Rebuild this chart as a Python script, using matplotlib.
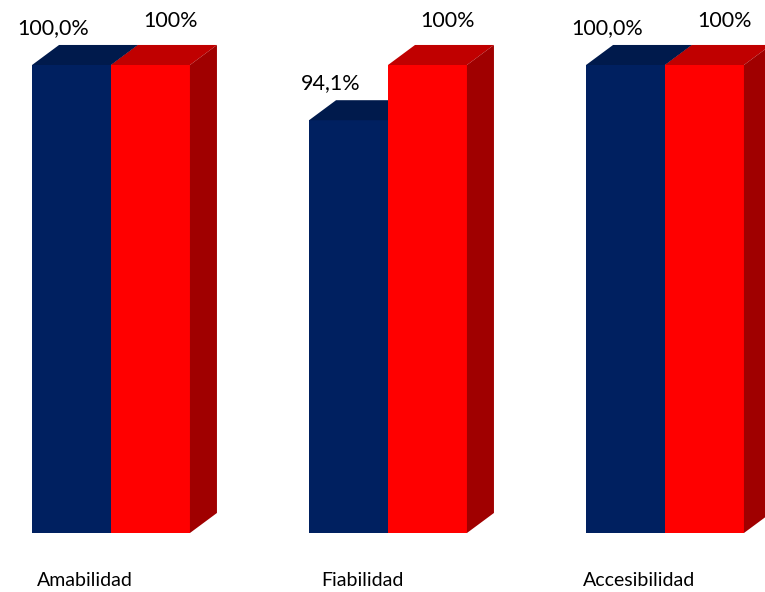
import matplotlib
matplotlib.use("Agg")
import matplotlib.pyplot as plt
from matplotlib.patches import Polygon

plt.rcParams['font.family'] = ['Lato', 'DejaVu Sans']

# data
categorias = ["Amabilidad", "Fiabilidad", "Accesibilidad"]
serie_azul = [100.0, 94.1, 100.0]
serie_roja = [100, 100, 100]
etiq_azul = ["100,0%", "94,1%", "100,0%"]
etiq_roja = ["100%", "100%", "100%"]

# colours: front, top, side
azul = ("#002060", "#001a4c", "#001848")
rojo = ("#ff0000", "#c00000", "#a00000")

W = 0.285      # bar width (category units)
DX = 0.0975    # depth offset in x
DY = 2.14      # depth offset in y
YMIN, YMAX = 50, 100

fig = plt.figure(figsize=(7.65, 5.92), dpi=100)
ax = fig.add_axes([0, 59 / 592, 1, 468 / 592])
ax.set_xlim(-111 / 277, 654 / 277)
ax.set_ylim(YMIN, YMAX)
ax.axis("off")


def caja(x0, v, cols):
    # front face
    ax.bar(x0, v - YMIN, width=W, bottom=YMIN, align="edge", color=cols[0],
           linewidth=0, zorder=2)
    # top face
    ax.add_patch(Polygon([(x0, v), (x0 + W, v), (x0 + W + DX, v + DY), (x0 + DX, v + DY)],
                         closed=True, facecolor=cols[1], linewidth=0, clip_on=False, zorder=2))
    # side face
    ax.add_patch(Polygon([(x0 + W, YMIN), (x0 + W + DX, YMIN + DY), (x0 + W + DX, v + DY), (x0 + W, v)],
                         closed=True, facecolor=cols[2], linewidth=0, clip_on=False, zorder=2))


for i in range(len(categorias)):
    caja(i - W, serie_azul[i], azul)
    caja(i, serie_roja[i], rojo)

    ax.annotate(etiq_azul[i], (i - W / 2, serie_azul[i]), xytext=(-18, 37),
                textcoords="offset pixels", ha="center", va="center",
                fontsize=15.5, annotation_clip=False)
    ax.annotate(etiq_roja[i], (i + W / 2, serie_roja[i]), xytext=(20, 44),
                textcoords="offset pixels", ha="center", va="center",
                fontsize=15.5, annotation_clip=False)
    ax.annotate(categorias[i], (i, YMIN), xytext=(-26, -47),
                textcoords="offset pixels", ha="center", va="center",
                fontsize=14, annotation_clip=False)

fig.savefig("out.png", dpi=100)
